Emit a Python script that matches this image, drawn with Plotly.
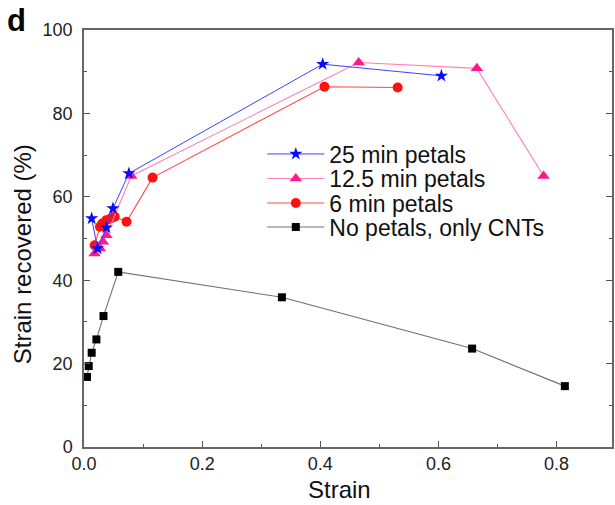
import plotly.graph_objects as go

# ---- data ----
strain_25 = [0.013, 0.023, 0.038, 0.049, 0.076, 0.404, 0.605]
recov_25 = [54.8, 47.6, 52.6, 57.2, 65.6, 91.8, 89.0]

strain_12 = [0.018, 0.027, 0.032, 0.038, 0.080, 0.465, 0.665, 0.778]
recov_12 = [46.4, 47.6, 49.2, 50.8, 65.0, 92.2, 90.8, 65.0]

strain_6 = [0.018, 0.027, 0.031, 0.038, 0.045, 0.052, 0.072, 0.116, 0.407, 0.531]
recov_6 = [48.4, 52.8, 53.6, 54.4, 54.8, 55.2, 54.0, 64.6, 86.4, 86.2]

strain_0 = [0.005, 0.008, 0.013, 0.021, 0.033, 0.058, 0.335, 0.657, 0.814]
recov_0 = [16.8, 19.4, 22.6, 25.8, 31.4, 42.0, 35.9, 23.6, 14.6]

x_ticks = [0.0, 0.2, 0.4, 0.6, 0.8]
x_ticklabels = ["0.0", "0.2", "0.4", "0.6", "0.8"]
y_ticks = [0, 20, 40, 60, 80, 100]

FONT = "Liberation Sans, Arial, Helvetica, sans-serif"

fig = go.Figure()

fig.add_trace(go.Scatter(
    x=strain_0, y=recov_0, mode="lines+markers", name="No petals, only CNTs",
    line=dict(color="#707070", width=1.1),
    marker=dict(symbol="square", size=8, color="black"),
    legend="legend4"))
fig.add_trace(go.Scatter(
    x=strain_6, y=recov_6, mode="lines+markers", name="6 min petals",
    line=dict(color="#ff4a4a", width=1.1),
    marker=dict(symbol="circle", size=10, color="#ff1010"),
    legend="legend3"))
fig.add_trace(go.Scatter(
    x=strain_12, y=recov_12, mode="lines+markers", name="12.5 min petals",
    line=dict(color="#ff80b8", width=1.1),
    marker=dict(symbol="triangle-up", size=11, color="#ff1a8c"),
    legend="legend2"))
fig.add_trace(go.Scatter(
    x=strain_25, y=recov_25, mode="lines+markers", name="25 min petals",
    line=dict(color="#4040ff", width=1.0),
    marker=dict(symbol="star", size=10, color="#0a0aff"),
    legend="legend"))

axis_common = dict(
    showgrid=False, zeroline=False,
    showline=True, linecolor="#666666", linewidth=1.5,
    ticks="inside", ticklen=6, tickwidth=1.2, tickcolor="#555555",
    tickfont=dict(family=FONT, size=18, color="#222222"),
)

fig.update_xaxes(
    range=[0, 0.8938], tickvals=x_ticks, ticktext=x_ticklabels,
    mirror=True,
    minor=dict(dtick=0.1, ticks="inside", ticklen=3, tickwidth=1.2, tickcolor="#555555"),
    **axis_common)
fig.update_yaxes(
    range=[0, 100], tickvals=y_ticks,
    mirror="ticks", ticklabelstandoff=6,
    minor=dict(dtick=10, ticks="inside", ticklen=3, tickwidth=1.2, tickcolor="#555555"),
    **axis_common)

def leg(ypx):
    return dict(x=(263 - 84) / 530, y=(447 - ypx) / 417, xanchor="left", yanchor="middle",
                bgcolor="rgba(0,0,0,0)", borderwidth=0, itemwidth=57,
                font=dict(family=FONT, size=23, color="#111111"))

fig.update_layout(
    width=615, height=505,
    margin=dict(l=84, r=1, t=30, b=58),
    paper_bgcolor="white", plot_bgcolor="white",
    showlegend=True,
    legend=leg(154), legend2=leg(178.5), legend3=leg(203), legend4=leg(227),
    annotations=[
        dict(text="<b>d</b>", x=(5 - 84) / 530, y=(447 - 21) / 417, xref="paper", yref="paper",
             xanchor="left", yanchor="middle", showarrow=False,
             font=dict(family=FONT, size=31, color="black")),
        dict(text="Strain", x=(340 - 84) / 530, y=(447 - 489) / 417, xref="paper", yref="paper",
             xanchor="center", yanchor="middle", showarrow=False,
             font=dict(family=FONT, size=24, color="#111111")),
        dict(text="Strain recovered (%)", x=(22 - 84) / 530, y=(447 - 254) / 417,
             xref="paper", yref="paper", xanchor="center", yanchor="middle",
             textangle=-90, showarrow=False,
             font=dict(family=FONT, size=24, color="#111111")),
    ],
)

fig.write_html("out.html",
               config={"displayModeBar": False},
               post_script="document.body.style.margin='0';document.body.style.overflow='hidden';")
